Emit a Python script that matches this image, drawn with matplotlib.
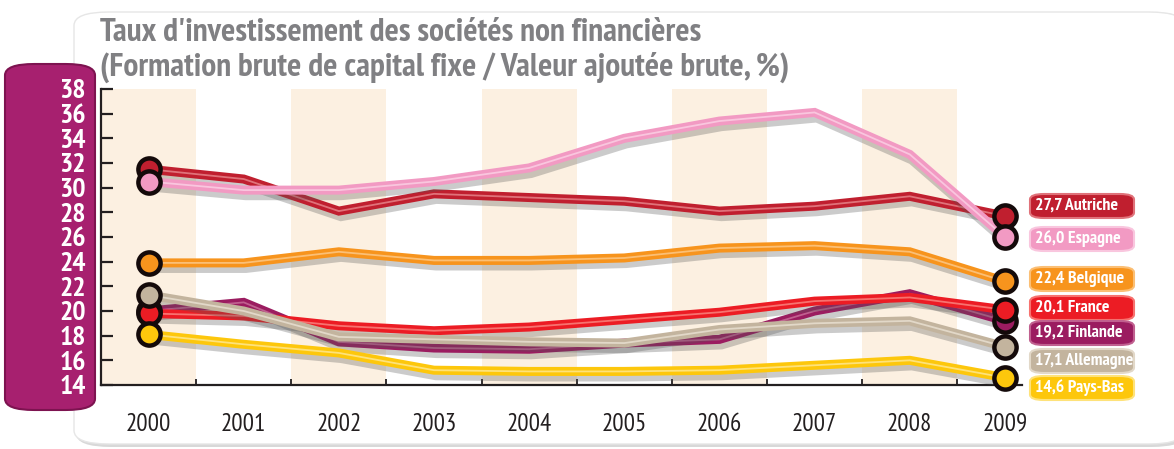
import numpy as np
import matplotlib.pyplot as plt
from matplotlib.patches import FancyBboxPatch, Rectangle
import matplotlib.patheffects as pe

plt.rcParams['font.family'] = ['PT Sans Narrow', 'Roboto Condensed', 'DejaVu Sans']

years = list(range(2000, 2010))

autriche = [31.5, 30.7, 28.1, 29.5, 29.2, 28.9, 28.1, 28.5, 29.3, 27.7]
espagne = [30.5, 29.8, 29.8, 30.5, 31.6, 34.0, 35.4, 36.1, 32.7, 26.0]
belgique = [23.9, 23.9, 24.8, 24.1, 24.1, 24.3, 25.1, 25.3, 24.8, 22.4]
france = [19.8, 19.6, 18.8, 18.4, 18.7, 19.3, 19.9, 20.8, 21.1, 20.1]
finlande = [20.0, 20.7, 17.5, 17.0, 16.9, 17.4, 17.7, 20.0, 21.4, 19.2]
allemagne = [21.3, 20.0, 17.9, 17.7, 17.5, 17.4, 18.5, 19.0, 19.2, 17.1]
pays_bas = [18.1, 17.3, 16.6, 15.2, 15.1, 15.1, 15.2, 15.6, 16.0, 14.6]

pays = ['Autriche', 'Espagne', 'Belgique', 'France', 'Finlande', 'Allemagne', 'Pays-Bas']
series = [autriche, espagne, belgique, france, finlande, allemagne, pays_bas]
couleurs = ['#c01f2f', '#f29ac3', '#f7941d', '#ec1c24', '#9b1c60', '#c3b49e', '#fdc70c']
reflets = ['#e0727a', '#f9c6de', '#fbbf75', '#f7726f', '#c0608f', '#e2d8c8', '#fee27a']
# ordre de superposition des courbes (du fond vers le dessus)
zordre = [7, 8, 6, 3, 2, 4, 5]

yticks = list(range(14, 40, 2))

W, H = 1174, 449
fig = plt.figure(figsize=(W / 100, H / 100), dpi=100)


def fx(px):
    return px / W


def fy(py):
    return 1 - py / H


# panneau blanc avec ombre
fig.patches.append(FancyBboxPatch((fx(76), fy(447)), fx(1110), 435 / H,
                                  boxstyle='round,pad=0,rounding_size=0.03',
                                  transform=fig.transFigure, fc='#d8d8d8', ec='none', zorder=0))
fig.patches.append(FancyBboxPatch((fx(74), fy(444)), fx(1110), 432 / H,
                                  boxstyle='round,pad=0,rounding_size=0.03',
                                  transform=fig.transFigure, fc='white', ec='#e6e6e6', lw=1, zorder=0))
# bandeau violet des graduations
fig.patches.append(FancyBboxPatch((fx(5), fy(410)), fx(90), 346 / H,
                                  boxstyle='round,pad=0,rounding_size=0.025',
                                  transform=fig.transFigure, fc='#a7206f', ec='#7d1350', lw=1.5, zorder=1))

ax = fig.add_axes([fx(101), fy(385), fx(1022) - fx(101), (385 - 89) / H])
ax.set_facecolor('none')
ax.set_zorder(2)
ax.set_xlim(1999.5, 2009.18)
ax.set_ylim(14, 38)

# bandes verticales une année sur deux
for an in years[::2]:
    ax.add_patch(Rectangle((an - 0.5, 14), 1, 24, fc='#fcf0e1', ec='none', zorder=0))

for vals, c, hl, z in zip(series, couleurs, reflets, zordre):
    ax.plot(years, vals, color=c, lw=6.5, solid_joinstyle='miter', zorder=z,
            path_effects=[pe.SimpleLineShadow(offset=(1.5, -4), shadow_color='#555555', alpha=0.3),
                          pe.Normal()])
    ax.plot(years, vals, color=hl, lw=1.3, zorder=z + 0.1)

for vals, c, z in zip(series, couleurs, zordre):
    ax.plot([years[0], years[-1]], [vals[0], vals[-1]], ls='none', marker='o', ms=16,
            mfc=c, mec='#140a0a', mew=3.2, zorder=20 + z, clip_on=False)

for side in ['top', 'right']:
    ax.spines[side].set_visible(False)
for side in ['left', 'bottom']:
    ax.spines[side].set_color('#231f20')
    ax.spines[side].set_linewidth(1.6)

ax.set_yticks(yticks)
ax.set_yticklabels([str(v) for v in yticks])
ax.tick_params(axis='y', direction='in', length=8.5, width=1.6, color='#231f20',
               pad=11, labelsize=20, labelcolor='white')
for t in ax.get_yticklabels():
    t.set_fontweight('bold')

ax.set_xticks(years)
ax.set_xticklabels([str(a) for a in years])
ax.set_xticks(np.arange(2000.5, 2009, 1), minor=True)
ax.tick_params(axis='x', which='major', length=0, pad=20, labelsize=18, labelcolor='#231f20')
ax.tick_params(axis='x', which='minor', direction='in', length=4.5, width=1.3, color='#231f20')

# étiquettes de fin de courbe
label_y = [206, 239, 279, 308, 333, 361, 388]
for nom, vals, c, hl, py in zip(pays, series, couleurs, reflets, label_y):
    fig.patches.append(FancyBboxPatch((fx(1030), fy(py + 12)), fx(104), 24 / H,
                                      boxstyle='round,pad=0,rounding_size=0.012',
                                      transform=fig.transFigure, fc=c, ec=hl, lw=1.5, zorder=5))
    fig.text(fx(1035), fy(py), f"{vals[-1]:.1f}".replace('.', ',') + ' ' + nom,
             color='white', fontsize=12.8, fontweight='bold', ha='left', va='center', zorder=6)

fig.text(fx(100), fy(33), "Taux d'investissement des sociétés non financières",
         color='#808083', fontsize=24, fontweight='bold', ha='left', va='center')
fig.text(fx(100), fy(67), "(Formation brute de capital fixe / Valeur ajoutée brute, %)",
         color='#808083', fontsize=24, fontweight='bold', ha='left', va='center')

fig.savefig('out.png', dpi=100)
